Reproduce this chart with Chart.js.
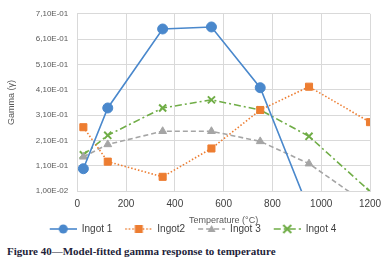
<!DOCTYPE html>
<html>
<head>
<meta charset="utf-8">
<script src="https://cdn.jsdelivr.net/npm/chart.js@4"></script>
<style>
  html, body { margin: 0; padding: 0; background: #fff; }
  #wrap { position: relative; width: 392px; height: 266px; }
  #chart { position: absolute; left: 0; top: 0; }
  #caption {
    position: absolute; left: 7px; top: 245px;
    font-family: "Liberation Serif", serif; font-weight: bold; font-size: 11px;
    color: #1e1e3a; white-space: nowrap;
  }
</style>
</head>
<body>
<div id="wrap">
  <canvas id="chart" width="392" height="244"></canvas>
  <div id="caption">Figure 40—Model-fitted gamma response to temperature</div>
</div>
<script>
// temperatures (°C)
var temps = [25, 125, 350, 550, 750, 950, 1200];
// gamma values per ingot
var ingot1 = [0.098, 0.338, 0.650, 0.658, 0.418, -0.065, -0.30];
var ingot2 = [0.262, 0.126, 0.066, 0.178, 0.330, 0.422, 0.282];
var ingot3 = [0.145, 0.194, 0.246, 0.246, 0.206, 0.118, -0.05];
var ingot4 = [0.153, 0.230, 0.338, 0.370, 0.330, 0.226, 0.008];
var yTicks = [0.01, 0.11, 0.21, 0.31, 0.41, 0.51, 0.61, 0.71];
var xTicks = [0, 200, 400, 600, 800, 1000, 1200];

function pts(arr) {
    return temps.map(function(t, i) { return {x: t, y: arr[i]}; });
}

function sciLabel(v) {
    var s = v.toExponential(2).split('e');
    var e = parseInt(s[1], 10);
    var es = (e < 0 ? '-' : '+') + String(Math.abs(e)).padStart(2, '0');
    return s[0].replace('.', ',') + 'E' + es;
}

var series = [
    {label: 'Ingot 1', data: ingot1, color: '#4a88cc', dash: [], style: 'circle', r: 5, bw: 1.6},
    {label: 'Ingot2', data: ingot2, color: '#ed7d31', dash: [1.5, 2], style: 'rect', r: 5, bw: 1.6},
    {label: 'Ingot 3', data: ingot3, color: '#a5a5a5', dash: [5, 3], style: 'triangle', r: 4.5, bw: 1.6},
    {label: 'Ingot 4', data: ingot4, color: '#70ad47', dash: [7, 3, 2, 3], style: 'crossRot', r: 5, bw: 1.6}
];

// legend swatch: blank lead-in, then line segment with the marker in the middle
var SW = 39, LEAD = 12;
function swatch(s) {
    var c = document.createElement('canvas');
    c.width = SW; c.height = 12;
    var g = c.getContext('2d');
    g.strokeStyle = s.color; g.fillStyle = s.color; g.lineWidth = s.bw;
    g.setLineDash(s.dash);
    g.beginPath(); g.moveTo(LEAD, 6); g.lineTo(SW, 6); g.stroke();
    g.setLineDash([]);
    var cx = LEAD + (SW - LEAD) / 2, cy = 6;
    if (s.style === 'circle') {
        g.beginPath(); g.arc(cx, cy, 4.5, 0, Math.PI * 2); g.fill();
    } else if (s.style === 'rect') {
        g.fillRect(cx - 4, cy - 4, 8, 8);
    } else if (s.style === 'triangle') {
        g.beginPath(); g.moveTo(cx, cy - 4); g.lineTo(cx + 4, cy + 3); g.lineTo(cx - 4, cy + 3); g.closePath(); g.fill();
    } else {
        g.lineWidth = 2;
        g.beginPath(); g.moveTo(cx - 4, cy - 4); g.lineTo(cx + 4, cy + 4);
        g.moveTo(cx + 4, cy - 4); g.lineTo(cx - 4, cy + 4); g.stroke();
    }
    return c;
}
var swatches = series.map(swatch);

var ctx = document.getElementById('chart').getContext('2d');
var chart = new Chart(ctx, {
    type: 'scatter',
    data: {
        datasets: series.map(function(s) {
            return {
                label: s.label,
                data: pts(s.data),
                showLine: true,
                borderColor: s.color,
                backgroundColor: s.color,
                borderWidth: s.bw,
                borderDash: s.dash,
                pointStyle: s.style,
                pointRadius: s.r,
                pointHoverRadius: s.r,
                pointBorderWidth: s.style === 'crossRot' ? 2 : 1,
                tension: 0
            };
        })
    },
    options: {
        responsive: false,
        animation: false,
        layout: {padding: {left: 4, right: 22, top: 13, bottom: 0}},
        plugins: {
            tooltip: {enabled: false},
            legend: {
                position: 'bottom',
                labels: {
                    usePointStyle: true,
                    pointStyleWidth: SW,
                    boxHeight: 10,
                    padding: 1,
                    color: '#404040',
                    font: {family: 'Liberation Sans', size: 10, lineHeight: 1},
                    generateLabels: function(ch) {
                        return series.map(function(s, i) {
                            return {text: s.label, pointStyle: swatches[i], datasetIndex: i,
                                    fillStyle: s.color, strokeStyle: s.color, lineWidth: 0, fontColor: '#404040'};
                        });
                    }
                }
            }
        },
        scales: {
            x: {
                type: 'linear',
                min: 0, max: 1200,
                afterBuildTicks: function(sc) { sc.ticks = xTicks.map(function(v) { return {value: v}; }); },
                afterFit: function(sc) { sc.height -= 3; },
                grid: {color: '#d9d9d9', drawTicks: false},
                border: {color: '#d9d9d9'},
                ticks: {color: '#404040', font: {family: 'Liberation Sans', size: 10, lineHeight: 1}, padding: 8, maxRotation: 0,
                        callback: function(v) { return String(v); }},
                title: {display: true, text: 'Temperature (°C)', color: '#595959',
                        font: {family: 'Liberation Sans', size: 9, lineHeight: 1}, padding: {top: 2, bottom: -2}}
            },
            y: {
                min: 0.01, max: 0.71,
                afterBuildTicks: function(sc) { sc.ticks = yTicks.map(function(v) { return {value: v}; }); },
                grid: {color: '#d9d9d9', drawTicks: false},
                border: {color: '#d9d9d9'},
                ticks: {color: '#595959', font: {family: 'Liberation Sans', size: 8}, padding: 9,
                        callback: function(v) { return sciLabel(v); }},
                title: {display: true, text: 'Gamma (γ)', color: '#595959',
                        font: {family: 'Liberation Sans', size: 9}, padding: {top: 2, bottom: 10}}
            }
        }
    }
});
</script>
</body>
</html>
